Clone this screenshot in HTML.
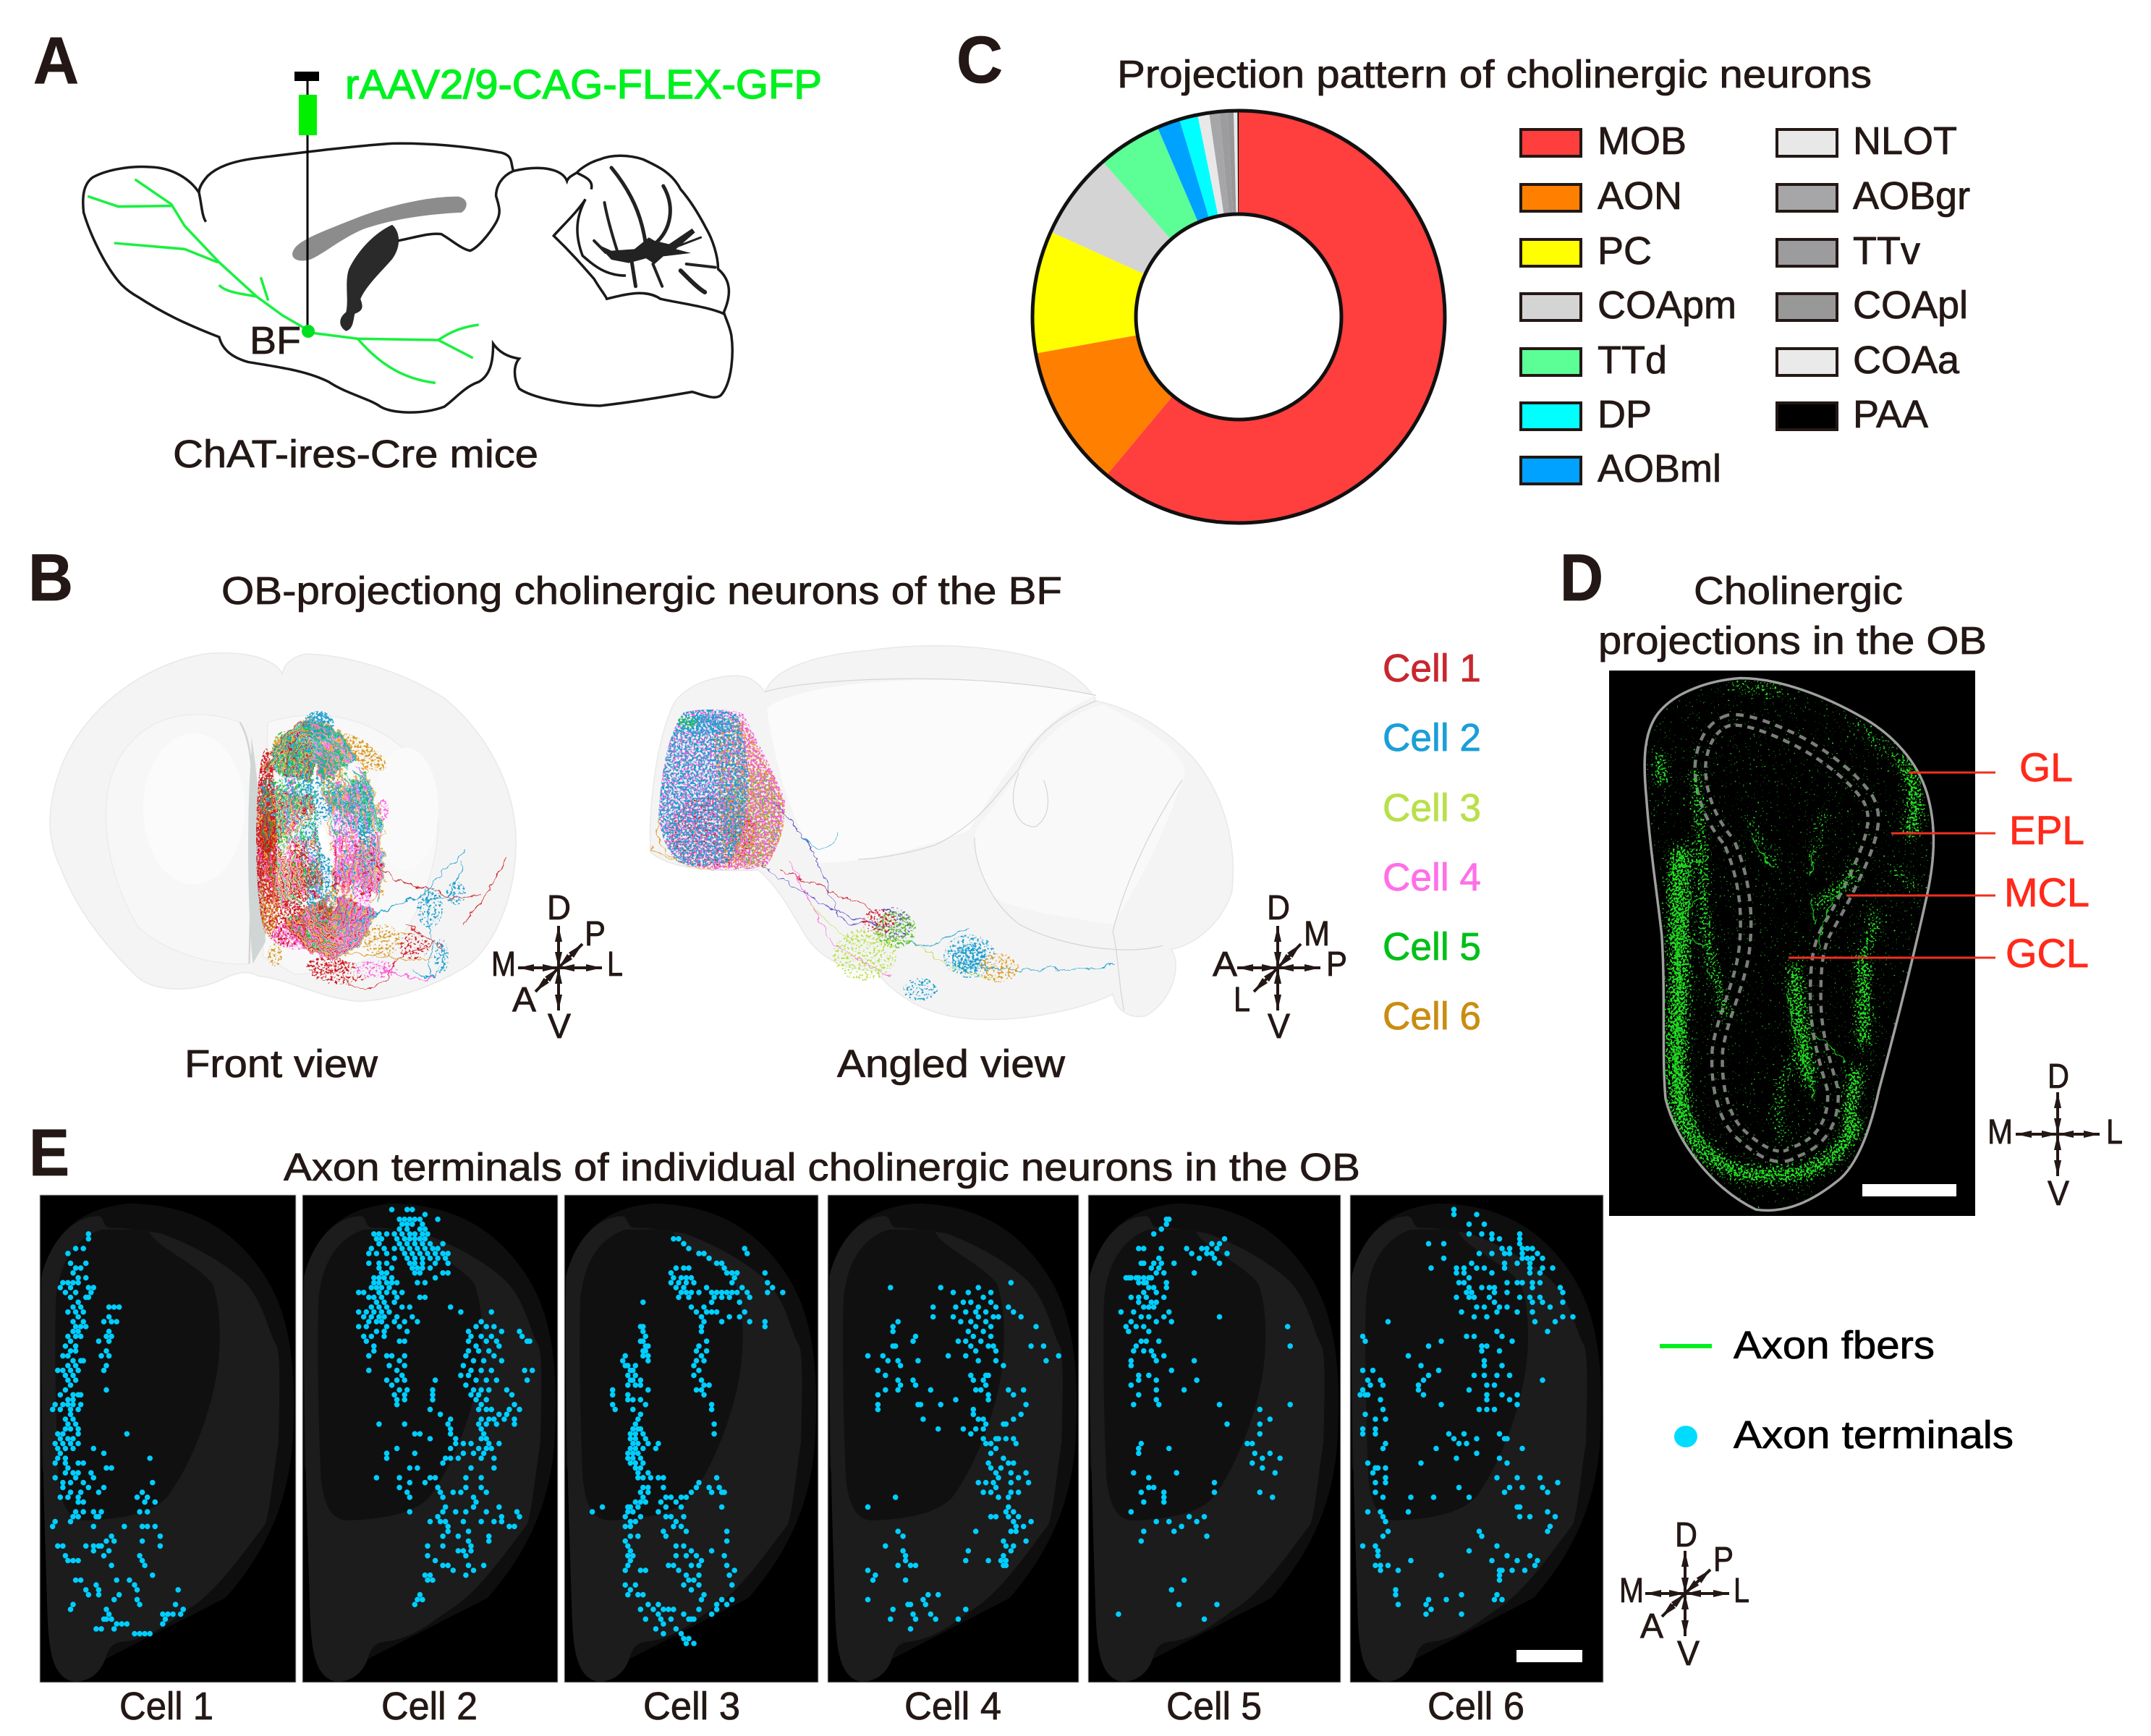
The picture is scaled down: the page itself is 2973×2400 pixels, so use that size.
<!DOCTYPE html>
<html lang="en">
<head>
<meta charset="utf-8">
<title>Projection of basal forebrain cholinergic neurons to the olfactory bulb</title>
<style>
html,body{margin:0;padding:0;background:#fff}
svg{display:block}
text{font-family:"Liberation Sans",Arial,sans-serif;fill:#231815;stroke:#231815;stroke-width:.8;font-size:54px}
.ltr{font-size:92px;font-weight:bold}
.cmp{font-size:48px}
.red{fill:#ff2a1a;stroke:#ff2a1a;font-size:56px}
.ns *{vector-effect:non-scaling-stroke}
.arr{stroke:#231815;stroke-width:4;marker-start:url(#ah);marker-end:url(#ah)}
.sw{stroke:#231815;stroke-width:4}
</style>
</head>
<body>
<svg id="figure" xmlns="http://www.w3.org/2000/svg" width="2973" height="2400" viewBox="0 0 2973 2400">
<defs>
<marker id="ah" markerUnits="userSpaceOnUse" markerWidth="24" markerHeight="14" refX="22" refY="7" orient="auto-start-reverse"><path d="M0,2 L22,7 L0,12 Z" fill="#231815"/></marker>
<filter id="wiggle" x="-10%" y="-10%" width="120%" height="120%"><feTurbulence type="fractalNoise" baseFrequency=".07" numOctaves="3" seed="7" result="n"/><feDisplacementMap in="SourceGraphic" in2="n" scale="14" xChannelSelector="R" yChannelSelector="G"/></filter>
<filter id="wiggleRing" filterUnits="userSpaceOnUse" x="300" y="950" width="300" height="420"><feTurbulence type="fractalNoise" baseFrequency=".09" numOctaves="4" seed="19" result="n"/><feDisplacementMap in="SourceGraphic" in2="n" scale="20" xChannelSelector="R" yChannelSelector="G"/></filter>
<filter id="spk1" x="-5%" y="-5%" width="110%" height="110%" color-interpolation-filters="sRGB"><feTurbulence type="fractalNoise" baseFrequency=".32" numOctaves="2" seed="3" result="n"/><feColorMatrix in="n" type="matrix" values="0 0 0 0 0 0 0 0 0 0 0 0 0 0 0 0 0 0 9 -4.3" result="t"/><feComposite in="SourceGraphic" in2="t" operator="in"/></filter>
<filter id="spk2" x="-5%" y="-5%" width="110%" height="110%" color-interpolation-filters="sRGB"><feTurbulence type="fractalNoise" baseFrequency=".32" numOctaves="2" seed="11" result="n"/><feColorMatrix in="n" type="matrix" values="0 0 0 0 0 0 0 0 0 0 0 0 0 0 0 0 0 0 9 -4.4" result="t"/><feComposite in="SourceGraphic" in2="t" operator="in"/></filter>
<filter id="spk3" x="-5%" y="-5%" width="110%" height="110%" color-interpolation-filters="sRGB"><feTurbulence type="fractalNoise" baseFrequency=".32" numOctaves="2" seed="23" result="n"/><feColorMatrix in="n" type="matrix" values="0 0 0 0 0 0 0 0 0 0 0 0 0 0 0 0 0 0 9 -4.4" result="t"/><feComposite in="SourceGraphic" in2="t" operator="in"/></filter>
<filter id="spk4" x="-5%" y="-5%" width="110%" height="110%" color-interpolation-filters="sRGB"><feTurbulence type="fractalNoise" baseFrequency=".32" numOctaves="2" seed="37" result="n"/><feColorMatrix in="n" type="matrix" values="0 0 0 0 0 0 0 0 0 0 0 0 0 0 0 0 0 0 9 -4.6" result="t"/><feComposite in="SourceGraphic" in2="t" operator="in"/></filter>
<filter id="spk5" x="-5%" y="-5%" width="110%" height="110%" color-interpolation-filters="sRGB"><feTurbulence type="fractalNoise" baseFrequency=".32" numOctaves="2" seed="41" result="n"/><feColorMatrix in="n" type="matrix" values="0 0 0 0 0 0 0 0 0 0 0 0 0 0 0 0 0 0 9 -4.6" result="t"/><feComposite in="SourceGraphic" in2="t" operator="in"/></filter>
<filter id="spkS" x="-5%" y="-5%" width="110%" height="110%" color-interpolation-filters="sRGB"><feTurbulence type="fractalNoise" baseFrequency=".3" numOctaves="2" seed="13" result="n"/><feColorMatrix in="n" type="matrix" values="0 0 0 0 0 0 0 0 0 0 0 0 0 0 0 0 0 0 9 -4.9" result="t"/><feComposite in="SourceGraphic" in2="t" operator="in"/></filter>
<filter id="densD" filterUnits="userSpaceOnUse" x="2224" y="927" width="506" height="754" color-interpolation-filters="sRGB">
<feTurbulence type="fractalNoise" baseFrequency=".34" numOctaves="2" seed="5" result="n"/>
<feColorMatrix in="n" type="matrix" values="0 0 0 0 0 0 0 0 0 0 0 0 0 0 0 0 0 0 1 0" result="na"/>
<feGaussianBlur in="SourceAlpha" stdDeviation="7" result="b"/>
<feComposite in="na" in2="b" operator="arithmetic" k1="0" k2="1" k3=".3" k4="0" result="s"/>
<feColorMatrix in="s" type="matrix" values="0 0 0 0 0 0 0 0 0 0 0 0 0 0 0 0 0 0 14 -10.1" result="t"/>
<feFlood flood-color="#22dd22"/><feComposite in2="t" operator="in"/>
</filter>
<clipPath id="obClip"><path transform="translate(2140,760) scale(.5314,.6122)" d="M500,290 C420,295 330,320 285,370 C250,410 245,470 255,560 C265,680 285,790 295,870 C305,1000 295,1150 305,1240 C330,1330 420,1440 540,1490 C620,1500 690,1470 760,1420 C810,1380 840,1300 860,1220 C900,1090 950,920 985,780 C1010,680 1005,610 985,550 C960,480 900,420 820,380 C720,330 600,290 500,290Z"/></clipPath>
<g id="ob-shape">
<path d="M3,210 C30,70 100,30 170,22 C280,25 360,80 420,200 C470,300 483,430 478,600 C475,760 440,900 350,1040 L120,1200 L3,700 Z" fill="#0e0e0e"/>
<path d="M3,210 C20,120 60,60 105,55 C125,50 115,85 135,85 C160,85 190,90 230,100 C290,130 340,170 375,210 C420,260 430,350 445,385 C455,400 452,520 450,640 C440,720 435,810 425,850 C380,930 340,1010 290,1060 C250,1095 220,1135 170,1150 C150,1155 135,1150 125,1190 C115,1240 85,1260 60,1255 C25,1240 18,1180 15,1100 C10,900 0,500 3,210 Z" fill="#1c1c1c"/>
<path d="M30,278 C35,170 70,110 115,90 C135,88 150,90 205,88 C210,130 290,170 325,228 C345,300 340,400 335,450 C325,550 290,680 250,760 C230,810 180,835 85,840 C55,838 40,800 35,730 C30,580 28,420 30,278 Z" fill="#101010"/>
</g>
</defs>

<!-- PANEL A -->
<g id="panel-a">
<text class="ltr" x="46" y="115" textLength="63" lengthAdjust="spacingAndGlyphs">A</text>
<text x="477" y="136" textLength="659" lengthAdjust="spacingAndGlyphs" style="fill:#00f020;stroke:#00f020;stroke-width:1.4;font-size:57px">rAAV2/9-CAG-FLEX-GFP</text>
<g class="ns" transform="scale(.7972,.4591)">
<path d="M510,750 C520,720 570,690 620,655 C680,615 750,590 795,592 C815,600 810,630 800,640 C740,645 680,660 630,690 C590,720 565,760 540,780 C515,795 500,775 510,750Z" fill="#8c8c8c"/>
<path d="M680,677 C695,700 695,745 680,780 C660,820 635,860 625,900 C630,925 630,935 615,945 C612,970 612,990 600,997 C588,985 585,960 600,940 C605,900 597,850 605,810 C620,755 650,700 680,677Z" fill="#2a2a2a"/>
<g fill="none" stroke="#1a1a1a" stroke-width="3.5">
<path d="M345,580 C330,540 300,505 260,503 C220,498 180,515 160,535 C145,555 142,590 145,640 C155,700 175,770 190,810 C205,850 215,870 240,895 C280,940 320,975 380,1015 C385,1050 400,1075 430,1090 C480,1105 530,1115 570,1150 C600,1185 640,1200 660,1225 C680,1245 730,1250 770,1225 C790,1200 805,1165 830,1150 C850,1130 855,1090 855,1035 C865,1060 880,1075 900,1080 C890,1100 890,1140 900,1170 C920,1195 980,1220 1040,1222 C1100,1210 1150,1195 1200,1180 C1220,1190 1240,1205 1250,1190 C1270,1150 1272,1060 1268,1010 C1265,980 1258,960 1255,940 C1270,880 1265,840 1245,810 C1245,770 1235,720 1225,690 C1210,640 1195,600 1180,570 C1165,520 1140,500 1115,480 C1090,465 1060,465 1040,480 C1020,490 1005,510 1000,520 C990,530 985,535 983,545 C975,510 940,495 890,515 C885,490 890,470 870,460 C810,440 740,430 680,432 C610,440 520,460 450,475 C400,485 375,505 360,530 C350,550 345,565 345,580"/>
<path d="M345,580 C350,620 350,650 357,668"/>
<path d="M890,515 C870,530 860,560 860,590 C865,620 870,640 860,670 C850,700 830,745 815,755 C800,750 785,725 765,705 C745,700 720,715 690,725"/>
<path d="M1015,600 C1000,640 975,680 960,710 C990,760 1010,800 1030,840 C1040,870 1050,890 1052,900 C1085,885 1120,870 1145,900 C1185,915 1230,925 1255,945"/>
<path d="M1015,600 C1000,650 995,700 1010,770 C1030,800 1050,830 1085,830"/>
<path d="M1000,520 C1010,530 1030,540 1025,570"/>
</g>
<g>
<path d="M1035,735 L1060,755 L1100,750 L1125,715 L1135,725 L1160,735 L1200,688 L1205,700 L1172,750 L1198,762 L1150,772 L1135,795 L1120,778 L1090,792 L1060,782Z" fill="#222"/>
<g fill="none" stroke="#222" stroke-linecap="round">
<path d="M1120,740 C1115,680 1105,600 1060,505" stroke-width="5"/>
<path d="M1135,735 C1165,690 1170,620 1150,560" stroke-width="5"/>
<path d="M1070,755 C1060,700 1052,650 1048,610" stroke-width="4"/>
<path d="M1030,725 L1050,760" stroke-width="4"/>
<path d="M1190,795 L1240,805" stroke-width="4"/>
<path d="M1180,815 C1200,850 1212,870 1222,880" stroke-width="6"/>
<path d="M1095,785 L1102,862" stroke-width="5"/>
<path d="M1132,795 L1148,862" stroke-width="4"/>
<path d="M1170,745 L1215,715" stroke-width="3"/>
</g></g>
<g fill="none" stroke="#19f040" stroke-width="3.5">
<path d="M152,591 L205,622 L297,620"/>
<path d="M234,540 L297,615 L320,680 L380,790 L445,893 L490,950 L530,990"/>
<path d="M198,732 L320,750 L378,790"/>
<path d="M380,858 C390,880 420,885 445,893"/>
<path d="M452,835 L465,905"/>
<path d="M530,1000 L620,1020 L760,1024 C780,1000 800,985 830,978"/>
<path d="M760,1024 L820,1078"/>
<path d="M620,1020 C650,1080 690,1140 755,1153"/>
</g>
</g>
<rect x="407" y="99" width="34" height="13" fill="#000"/>
<line x1="425" y1="112" x2="425" y2="455" stroke="#000" stroke-width="3"/>
<rect x="413" y="131" width="25" height="56" fill="#00f000"/>
<ellipse cx="426" cy="458" rx="9" ry="9" fill="#00e020"/>
<text x="345" y="489" textLength="71" lengthAdjust="spacingAndGlyphs">BF</text>
<text x="239" y="646" textLength="505" lengthAdjust="spacingAndGlyphs">ChAT-ires-Cre mice</text>
</g>

<!-- PANEL C -->
<g id="panel-c">
<text class="ltr" x="1322" y="114" textLength="64" lengthAdjust="spacingAndGlyphs">C</text>
<text x="1544" y="121" textLength="1043" lengthAdjust="spacingAndGlyphs">Projection pattern of cholinergic neurons</text>
<g id="donut"></g>
<g id="donut-legend"></g>
</g>

<!-- PANEL B -->
<g id="panel-b">
<text class="ltr" x="39" y="830" textLength="62" lengthAdjust="spacingAndGlyphs">B</text>
<text x="306" y="835" textLength="1162" lengthAdjust="spacingAndGlyphs">OB-projectiong cholinergic neurons of the BF</text>

<g class="ns" transform="translate(0,760) scale(.6378,.4975)">
<path d="M612,345 C590,290 500,280 440,290 C320,320 200,420 140,580 C100,700 100,800 130,880 C160,980 210,1080 300,1190 C340,1230 420,1230 480,1195 C520,1170 540,1170 560,1185 C620,1190 700,1250 780,1255 C860,1250 950,1210 1020,1150 C1080,1080 1120,950 1118,800 C1115,650 1050,500 960,410 C860,330 740,290 660,290 C630,300 615,320 612,345Z" fill="#f4f4f4" stroke="#e8e8e8" stroke-width="1.5"/>
<path d="M520,480 C420,430 300,460 250,600 C210,720 230,900 300,1050 C360,1120 470,1160 540,1150 L555,700 C550,580 540,510 520,480Z" fill="#f7f7f7" stroke="#ececec" stroke-width="1.5"/>
<path d="M580,480 C700,430 840,470 920,620 C970,720 950,880 900,1010 C860,1130 760,1170 640,1180 L570,1130Z" fill="#f8f8f8" stroke="#ececec" stroke-width="1.5"/>
<ellipse cx="420" cy="720" rx="110" ry="210" fill="#fbfbfb"/>
<ellipse cx="880" cy="720" rx="70" ry="170" fill="#fafafa"/>
<path d="M520,480 C540,520 548,600 548,700 L540,1150" fill="none" stroke="#cfcfcf" stroke-width="2"/>
<path d="M545,520 C555,600 575,800 575,1090 L548,1150 C535,1000 535,700 545,560Z" fill="#d0d6d6"/>
</g>
<g>
<g filter="url(#spk1)"><ellipse cx="368" cy="1160" rx="14" ry="125" fill="#d01c24"/><ellipse cx="397" cy="1277" rx="30" ry="32" fill="#d01c24"/><ellipse cx="440" cy="1003" rx="22" ry="20" fill="#1e9fd0"/><ellipse cx="497" cy="1117" rx="20" ry="38" fill="#1e9fd0"/></g>
<g filter="url(#spk2)"><ellipse cx="368" cy="1160" rx="14" ry="120" fill="#d01c24"/><ellipse cx="372" cy="1245" rx="13" ry="50" fill="#d8851a"/><ellipse cx="500" cy="1040" rx="40" ry="15" transform="rotate(35 500 1040)" fill="#d89a20"/><ellipse cx="413" cy="1067" rx="20" ry="52" fill="#1e9fd0"/></g>
<g filter="url(#spk3)"><ellipse cx="440" cy="1003" rx="20" ry="18" fill="#1e9fd0"/><ellipse cx="393" cy="1043" rx="18" ry="32" fill="#20c040"/><ellipse cx="507" cy="1173" rx="13" ry="42" fill="#1e9fd0"/><ellipse cx="477" cy="1165" rx="17" ry="72" fill="#ff60e0"/><ellipse cx="370" cy="1170" rx="13" ry="80" fill="#d01c24"/><ellipse cx="444" cy="1230" rx="22" ry="50" fill="#1e9fd0"/></g>
<g filter="url(#spk4)"><ellipse cx="500" cy="1237" rx="13" ry="42" fill="#ff60e0"/><ellipse cx="413" cy="1293" rx="38" ry="20" fill="#ff60e0"/><ellipse cx="530" cy="1120" rx="7" ry="16" fill="#ff60e0"/><ellipse cx="430" cy="1165" rx="15" ry="80" fill="#1e9fd0"/><ellipse cx="388" cy="1130" rx="7" ry="55" fill="#20c040"/><ellipse cx="450" cy="1085" rx="14" ry="50" fill="#1e9fd0"/></g>
<g filter="url(#spk5)"><ellipse cx="403" cy="1130" rx="10" ry="60" fill="#ff60e0"/><ellipse cx="460" cy="1070" rx="18" ry="45" fill="#d89a20"/><ellipse cx="470" cy="1250" rx="22" ry="30" fill="#e8a030"/><ellipse cx="453" cy="1335" rx="30" ry="12" fill="#d01c24"/><ellipse cx="380" cy="1320" rx="10" ry="16" fill="#d8a030"/><ellipse cx="415" cy="1215" rx="14" ry="50" fill="#d01c24"/></g>
<ellipse cx="370" cy="1152" rx="11" ry="28" fill="#cc1a14"/>
</g>
<g id="front-rings" filter="url(#wiggleRing)"></g>
<ellipse cx="447" cy="1160" rx="6" ry="20" transform="rotate(-14 447 1160)" fill="#fff"/>
<g>
<g filter="url(#wiggle)" fill="none" stroke-width="1.1">
<path d="M480,1290 C530,1240 570,1260 600,1220 S630,1200 641,1173" stroke="#1e9fd0"/>
<path d="M590,1350 C605,1320 590,1270 590,1230 M590,1240 C610,1250 630,1240 640,1190" stroke="#1e9fd0"/>
<path d="M700,1185 C680,1230 660,1250 640,1280 M520,1190 C545,1230 570,1220 600,1232 S640,1240 660,1240" stroke="#d01c24"/>
<path d="M470,1350 C500,1375 530,1370 540,1340 S590,1320 600,1300 M560,1280 C590,1290 620,1330 610,1300" stroke="#d01c24"/>
<path d="M480,1320 C520,1310 560,1340 600,1320 M500,1310 C530,1290 550,1290 570,1290" stroke="#d89a20"/>
<path d="M500,1330 C540,1340 580,1365 600,1350" stroke="#ff60e0"/>
<path d="M570,1340 C590,1360 610,1360 615,1310" stroke="#1e9fd0"/>
</g>
<g filter="url(#spkS)"><ellipse cx="594" cy="1255" rx="18" ry="28" fill="#1e9fd0"/><ellipse cx="630" cy="1235" rx="14" ry="16" fill="#1e9fd0"/><ellipse cx="572" cy="1308" rx="22" ry="18" fill="#d01c24"/><ellipse cx="528" cy="1300" rx="26" ry="22" fill="#d89a20"/><ellipse cx="610" cy="1322" rx="10" ry="24" fill="#1e9fd0"/><ellipse cx="470" cy="1345" rx="40" ry="16" fill="#d01c24"/><ellipse cx="520" cy="1340" rx="30" ry="12" fill="#ff60e0"/></g>
</g>

<g class="ns" transform="translate(880,760) scale(.7653,.4975)">
<path d="M25,840 C20,700 40,500 70,420 C100,360 170,340 200,355 C215,365 225,380 232,395 C250,320 340,290 420,280 C530,255 650,265 740,310 C790,340 820,390 830,420 C890,440 950,490 1000,570 C1060,670 1085,820 1075,950 C1060,1030 1010,1100 965,1110 C985,1150 970,1250 920,1295 C890,1305 865,1280 860,1235 C800,1280 700,1310 620,1305 C520,1300 470,1240 430,1170 C380,1170 330,1140 300,1060 C270,980 250,930 220,890 C150,895 60,890 25,840Z" fill="#f4f4f4" stroke="#e8e8e8" stroke-width="1.5"/>
<path d="M235,440 C300,360 600,330 830,405 C720,470 650,660 600,780 C500,840 400,870 330,870 C280,760 250,600 235,440Z" fill="#fbfbfb"/>
<path d="M840,430 C900,470 990,560 990,620 C960,760 920,900 860,1040 C760,1020 680,1000 640,960 C610,880 600,800 620,760 C680,660 730,480 840,430Z" fill="#f9f9f9"/>
<g fill="none" stroke="#d4d4d4" stroke-width="1.2">
<path d="M830,420 C780,450 720,500 690,610 C650,680 620,760 540,820 C480,850 420,860 400,860"/>
<path d="M610,800 C610,880 640,980 690,1040 C760,1100 880,1130 950,1100"/>
<path d="M690,620 C670,690 680,770 720,770 C750,740 745,680 735,640"/>
<path d="M985,640 C950,720 890,880 860,1060 C870,1130 870,1200 880,1280"/>
<path d="M232,395 C300,360 600,330 830,405"/>
</g>
</g>
<g>
<ellipse cx="1040" cy="1130" rx="40" ry="65" fill="#30c050" filter="url(#spk5)"/>
<ellipse cx="985" cy="1150" rx="60" ry="50" fill="#d02030" filter="url(#spk4)"/>
<path d="M985,1000 C1020,985 1028,990 1045,1030 C1075,1080 1085,1105 1085,1120 C1085,1150 1070,1185 1058,1198 L1000,1200 Z" fill="#e09a20" filter="url(#spk2)"/>
<path d="M945,985 C970,978 1020,980 1028,988 C1050,1030 1075,1080 1085,1105 C1085,1150 1070,1185 1058,1198 C1020,1205 960,1205 935,1190 C915,1170 908,1130 911,1115 C915,1060 925,1010 945,985Z" fill="#f060d8" filter="url(#spk3)"/>
<path d="M945,985 C970,978 1010,980 1020,990 C1040,1050 1040,1130 1010,1190 C980,1200 950,1200 935,1190 C915,1170 908,1130 911,1115 C915,1060 925,1010 945,985Z" fill="#1e9fd0" filter="url(#spk1)"/>
<ellipse cx="975" cy="1002" rx="36" ry="14" fill="#1e9fd0" filter="url(#spk2)"/>
<ellipse cx="950" cy="998" rx="14" ry="8" fill="#20c040" filter="url(#spk3)"/>
<g filter="url(#wiggle)" fill="none" stroke-width="1">
<path d="M1050,1195 C1090,1220 1130,1250 1170,1265 S1215,1275 1235,1282" stroke="#5a48c8"/>
<path d="M1070,1110 C1110,1150 1140,1200 1150,1245 S1190,1270 1220,1280" stroke="#5a48c8"/>
<path d="M1080,1200 C1130,1230 1180,1240 1225,1270" stroke="#d02030"/>
<path d="M1090,1190 C1120,1250 1140,1290 1160,1310 S1200,1330 1230,1350" stroke="#ff60e0"/>
<path d="M1120,1250 C1150,1290 1190,1310 1230,1300 S1300,1350 1380,1350" stroke="#b8e04a"/>
<path d="M1110,1160 C1130,1180 1145,1180 1160,1150" stroke="#1e9fd0"/>
<path d="M1330,1330 C1370,1345 1430,1340 1470,1340 S1530,1335 1540,1332" stroke="#1e9fd0"/>
<path d="M1250,1300 C1290,1320 1310,1290 1340,1285" stroke="#1e9fd0"/>
<path d="M900,1170 C920,1190 950,1195 985,1205 M910,1130 C905,1160 915,1175 935,1190" stroke="#e09a20"/>
</g>
<ellipse cx="1232" cy="1278" rx="28" ry="24" fill="#5a48c8" filter="url(#spkS)"/>
<ellipse cx="1238" cy="1285" rx="28" ry="26" fill="#60c030" filter="url(#spk4)"/>
<ellipse cx="1215" cy="1275" rx="24" ry="18" fill="#d02030" filter="url(#spkS)"/>
<ellipse cx="1195" cy="1320" rx="44" ry="36" fill="#b8e04a" filter="url(#spkS)"/>
<ellipse cx="1340" cy="1322" rx="36" ry="30" fill="#1e9fd0" filter="url(#spkS)"/>
<ellipse cx="1340" cy="1325" rx="24" ry="20" fill="#1e9fd0" filter="url(#spk3)"/>
<ellipse cx="1380" cy="1338" rx="28" ry="20" fill="#e09a20" filter="url(#spkS)"/>
<ellipse cx="1272" cy="1368" rx="24" ry="16" fill="#1e9fd0" filter="url(#spkS)"/>
</g>

<text x="255" y="1489" textLength="267" lengthAdjust="spacingAndGlyphs">Front view</text>
<text x="1157" y="1489" textLength="315" lengthAdjust="spacingAndGlyphs">Angled view</text>

<g>
<line class="arr" x1="772" y1="1338" x2="772" y2="1280"/><line class="arr" x1="772" y1="1338" x2="772" y2="1397"/>
<line class="arr" x1="772" y1="1338" x2="716" y2="1338"/><line class="arr" x1="772" y1="1338" x2="832" y2="1338"/>
<line class="arr" x1="772" y1="1338" x2="805" y2="1305"/><line class="arr" x1="772" y1="1338" x2="740" y2="1371"/>
<text class="cmp" x="756" y="1271" textLength="33" lengthAdjust="spacingAndGlyphs">D</text><text class="cmp" x="808" y="1307" textLength="29" lengthAdjust="spacingAndGlyphs">P</text>
<text class="cmp" x="679" y="1349" textLength="34" lengthAdjust="spacingAndGlyphs">M</text><text class="cmp" x="839" y="1349" textLength="22" lengthAdjust="spacingAndGlyphs">L</text>
<text class="cmp" x="708" y="1398" textLength="33" lengthAdjust="spacingAndGlyphs">A</text><text class="cmp" x="757" y="1435" textLength="32" lengthAdjust="spacingAndGlyphs">V</text>
</g>
<g>
<line class="arr" x1="1766" y1="1338" x2="1766" y2="1280"/><line class="arr" x1="1766" y1="1338" x2="1766" y2="1397"/>
<line class="arr" x1="1766" y1="1338" x2="1710" y2="1338"/><line class="arr" x1="1766" y1="1338" x2="1825" y2="1338"/>
<line class="arr" x1="1766" y1="1338" x2="1798" y2="1305"/><line class="arr" x1="1766" y1="1338" x2="1733" y2="1371"/>
<text class="cmp" x="1751" y="1271" textLength="32" lengthAdjust="spacingAndGlyphs">D</text><text class="cmp" x="1802" y="1307" textLength="36" lengthAdjust="spacingAndGlyphs">M</text>
<text class="cmp" x="1676" y="1349" textLength="34" lengthAdjust="spacingAndGlyphs">A</text><text class="cmp" x="1833" y="1349" textLength="29" lengthAdjust="spacingAndGlyphs">P</text>
<text class="cmp" x="1705" y="1398" textLength="23" lengthAdjust="spacingAndGlyphs">L</text><text class="cmp" x="1752" y="1435" textLength="31" lengthAdjust="spacingAndGlyphs">V</text>
</g>

<g>
<text x="1911" y="942" textLength="136" lengthAdjust="spacingAndGlyphs" style="fill:#c8272e;stroke:#c8272e">Cell 1</text>
<text x="1911" y="1038" textLength="136" lengthAdjust="spacingAndGlyphs" style="fill:#1a9fd8;stroke:#1a9fd8">Cell 2</text>
<text x="1911" y="1135" textLength="136" lengthAdjust="spacingAndGlyphs" style="fill:#b8e04a;stroke:#b8e04a">Cell 3</text>
<text x="1911" y="1231" textLength="136" lengthAdjust="spacingAndGlyphs" style="fill:#ff6fe8;stroke:#ff6fe8">Cell 4</text>
<text x="1911" y="1327" textLength="136" lengthAdjust="spacingAndGlyphs" style="fill:#00c018;stroke:#00c018">Cell 5</text>
<text x="1911" y="1423" textLength="136" lengthAdjust="spacingAndGlyphs" style="fill:#c98d10;stroke:#c98d10">Cell 6</text>
</g>
</g>

<!-- PANEL D -->
<g id="panel-d">
<text class="ltr" x="2156" y="830" textLength="60" lengthAdjust="spacingAndGlyphs">D</text>
<text x="2341" y="835" textLength="289" lengthAdjust="spacingAndGlyphs">Cholinergic</text>
<text x="2209" y="904" textLength="537" lengthAdjust="spacingAndGlyphs">projections in the OB</text>
<rect x="2224" y="927" width="506" height="754" fill="#000"/>
<g class="ns" transform="translate(2140,760) scale(.5314,.6122)">
<path d="M500,290 C420,295 330,320 285,370 C250,410 245,470 255,560 C265,680 285,790 295,870 C305,1000 295,1150 305,1240 C330,1330 420,1440 540,1490 C620,1500 690,1470 760,1420 C810,1380 840,1300 860,1220 C900,1090 950,920 985,780 C1010,680 1005,610 985,550 C960,480 900,420 820,380 C720,330 600,290 500,290Z" fill="none" stroke="#a0a0a0" stroke-width="3.5"/>
<path d="M470,385 C430,395 400,430 395,490 C395,560 430,620 470,660 C510,740 520,820 510,900 C500,980 450,1060 440,1130 C435,1200 450,1280 500,1320 C550,1360 600,1385 640,1360 C710,1340 745,1290 740,1220 C725,1170 695,1100 695,1010 C695,940 700,890 730,850 C770,790 810,720 830,670 C850,620 850,590 830,560 C790,510 700,450 620,420 C570,400 510,380 470,385Z" fill="none" stroke="#7c7c7c" stroke-width="19" stroke-dasharray="10 8"/>
<path d="M470,385 C430,395 400,430 395,490 C395,560 430,620 470,660 C510,740 520,820 510,900 C500,980 450,1060 440,1130 C435,1200 450,1280 500,1320 C550,1360 600,1385 640,1360 C710,1340 745,1290 740,1220 C725,1170 695,1100 695,1010 C695,940 700,890 730,850 C770,790 810,720 830,670 C850,620 850,590 830,560 C790,510 700,450 620,420 C570,400 510,380 470,385Z" fill="none" stroke="#000" stroke-width="10"/>
</g>
<g clip-path="url(#obClip)"><g filter="url(#densD)"><g class="ns" transform="translate(2140,760) scale(.5314,.6122)" fill="none" stroke="#22e022" stroke-linecap="round">
<path d="M345,690 C330,800 345,900 340,1000 C330,1100 330,1200 350,1290" stroke-width="30"/>
<path d="M335,1000 L335,1220" stroke-width="20"/>
<path d="M345,800 L350,880" stroke-width="22"/>
<path d="M350,1290 C400,1380 480,1420 600,1410 C680,1420 760,1370 800,1300" stroke-width="22"/>
<path d="M480,305 L600,320" stroke-width="9"/><path d="M290,470 L295,520" stroke-width="16"/>
<path d="M800,390 L930,490" stroke-width="8"/><path d="M930,490 C960,540 960,600 940,640" stroke-width="20"/>
<path d="M640,950 C650,1050 670,1150 680,1200" stroke-width="20"/>
<path d="M820,940 L820,1110" stroke-width="20"/><path d="M800,1180 L780,1300" stroke-width="20"/>
<path d="M385,500 C395,620 400,780 420,920 L460,1050" stroke-width="12"/>
<path d="M700,800 C740,780 770,760 800,720" stroke-width="12"/>
<path d="M850,820 C840,880 830,900 810,930" stroke-width="12"/>
<path d="M520,610 L590,720 M720,590 L680,720" stroke-width="7"/>
<path d="M900,720 L960,760" stroke-width="8"/>
<path d="M640,1140 C600,1220 580,1290 620,1340" stroke-width="8"/>
</g></g></g>
<g filter="url(#wiggle)"><g class="ns" transform="translate(2140,760) scale(.5314,.6122)" fill="none" stroke="#1fd01f" stroke-width="1.6">
<path d="M340,690 C370,720 380,780 345,850 C320,900 350,960 345,1040 C330,1120 320,1180 345,1240 C380,1300 420,1370 480,1400"/>
<path d="M310,730 C350,700 400,720 420,690 M320,850 L410,770 M310,880 C360,860 390,900 420,890"/>
<path d="M330,1060 L360,1120 M325,1180 C345,1160 360,1190 345,1220"/>
<path d="M620,1000 C640,1100 670,1150 690,1240 M700,1100 C740,1130 760,1140 770,1160"/>
<path d="M760,760 C720,800 710,860 700,900 M690,790 L695,850"/>
<path d="M530,650 L580,720 M690,680 L680,740"/>
</g></g>
<g stroke="#f03020" stroke-width="3">
<line x1="2638" y1="1068" x2="2758" y2="1068"/><line x1="2614" y1="1152" x2="2758" y2="1152"/>
<line x1="2552" y1="1238" x2="2758" y2="1238"/><line x1="2472" y1="1324" x2="2758" y2="1324"/>
</g>
<text class="red" x="2791" y="1080" textLength="74" lengthAdjust="spacingAndGlyphs">GL</text>
<text class="red" x="2777" y="1167" textLength="104" lengthAdjust="spacingAndGlyphs">EPL</text>
<text class="red" x="2770" y="1253" textLength="118" lengthAdjust="spacingAndGlyphs">MCL</text>
<text class="red" x="2772" y="1337" textLength="115" lengthAdjust="spacingAndGlyphs">GCL</text>
<rect x="2574" y="1637" width="130" height="17" fill="#fff"/>
<g>
<line class="arr" x1="2844" y1="1568" x2="2844" y2="1510"/><line class="arr" x1="2844" y1="1568" x2="2844" y2="1626"/>
<line class="arr" x1="2844" y1="1568" x2="2786" y2="1568"/><line class="arr" x1="2844" y1="1568" x2="2902" y2="1568"/>
<text class="cmp" x="2830" y="1504" textLength="30" lengthAdjust="spacingAndGlyphs">D</text><text class="cmp" x="2747" y="1581" textLength="35" lengthAdjust="spacingAndGlyphs">M</text>
<text class="cmp" x="2911" y="1581" textLength="23" lengthAdjust="spacingAndGlyphs">L</text><text class="cmp" x="2830" y="1666" textLength="30" lengthAdjust="spacingAndGlyphs">V</text>
</g>
</g>

<!-- PANEL E -->
<g id="panel-e">
<text class="ltr" x="40" y="1625" textLength="56" lengthAdjust="spacingAndGlyphs">E</text>
<text x="392" y="1632" textLength="1488" lengthAdjust="spacingAndGlyphs">Axon terminals of individual cholinergic neurons in the OB</text>
<g><rect x="55" y="1652" width="354" height="674" fill="#000" stroke="#c4c4c4"/><use href="#ob-shape" transform="translate(55,1652) scale(.7329,.5358)"/></g>
<g><rect x="418" y="1652" width="353" height="674" fill="#000" stroke="#c4c4c4"/><use href="#ob-shape" transform="translate(418,1652) scale(.7308,.5358)"/></g>
<g><rect x="780" y="1652" width="351" height="674" fill="#000" stroke="#c4c4c4"/><use href="#ob-shape" transform="translate(780,1652) scale(.7267,.5358)"/></g>
<g><rect x="1144" y="1652" width="347" height="674" fill="#000" stroke="#c4c4c4"/><use href="#ob-shape" transform="translate(1144,1652) scale(.7184,.5358)"/></g>
<g><rect x="1504" y="1652" width="349" height="674" fill="#000" stroke="#c4c4c4"/><use href="#ob-shape" transform="translate(1504,1652) scale(.7226,.5358)"/></g>
<g><rect x="1866" y="1652" width="350" height="674" fill="#000" stroke="#c4c4c4"/><use href="#ob-shape" transform="translate(1866,1652) scale(.7246,.5358)"/></g>
<g id="terminals"></g>
<rect x="2096" y="2281" width="91" height="17" fill="#fff"/>
<text x="165" y="2377" textLength="130" lengthAdjust="spacingAndGlyphs">Cell 1</text>
<text x="527" y="2377" textLength="133" lengthAdjust="spacingAndGlyphs">Cell 2</text>
<text x="889" y="2377" textLength="134" lengthAdjust="spacingAndGlyphs">Cell 3</text>
<text x="1250" y="2377" textLength="134" lengthAdjust="spacingAndGlyphs">Cell 4</text>
<text x="1612" y="2377" textLength="132" lengthAdjust="spacingAndGlyphs">Cell 5</text>
<text x="1973" y="2377" textLength="134" lengthAdjust="spacingAndGlyphs">Cell 6</text>

<g>
<rect x="2294" y="1858" width="72" height="6" fill="#00f020"/>
<text x="2396" y="1878" textLength="278" lengthAdjust="spacingAndGlyphs" style="fill:#000;stroke:#000">Axon fbers</text>
<ellipse cx="2330" cy="1986" rx="16" ry="15" fill="#00dcff"/>
<text x="2396" y="2002" textLength="387" lengthAdjust="spacingAndGlyphs" style="fill:#000;stroke:#000">Axon terminals</text>
</g>
<g>
<line class="arr" x1="2329" y1="2203" x2="2329" y2="2144"/><line class="arr" x1="2329" y1="2203" x2="2329" y2="2262"/>
<line class="arr" x1="2329" y1="2203" x2="2274" y2="2203"/><line class="arr" x1="2329" y1="2203" x2="2390" y2="2203"/>
<line class="arr" x1="2329" y1="2203" x2="2364" y2="2170"/><line class="arr" x1="2329" y1="2203" x2="2297" y2="2235"/>
<text class="cmp" x="2315" y="2138" textLength="31" lengthAdjust="spacingAndGlyphs">D</text><text class="cmp" x="2368" y="2172" textLength="28" lengthAdjust="spacingAndGlyphs">P</text>
<text class="cmp" x="2238" y="2215" textLength="34" lengthAdjust="spacingAndGlyphs">M</text><text class="cmp" x="2396" y="2215" textLength="22" lengthAdjust="spacingAndGlyphs">L</text>
<text class="cmp" x="2267" y="2264" textLength="32" lengthAdjust="spacingAndGlyphs">A</text><text class="cmp" x="2318" y="2302" textLength="31" lengthAdjust="spacingAndGlyphs">V</text>
</g>
</g>
</svg>

<script>
/* Panel C: share of projection (%) per target region, read from the donut */
const regionNames = ["MOB","AON","PC","COApm","TTd","AOBml","DP","NLOT","AOBgr","TTv","COApl","COAa","PAA"];
const regionShares = [61.06,11.1,9.6,6.8,5.0,1.8,1.45,0.9,0.8,0.6,0.5,0.3,0.09];
const regionColors = ["#ff3e3e","#ff8000","#ffff00","#d4d4d4","#5cff96","#00a2ff","#00ffff","#e8e8e8","#a6a6a8","#9c9c9e","#989899","#eaeaea","#000000"];
const legendOrder = ["MOB","AON","PC","COApm","TTd","DP","AOBml","NLOT","AOBgr","TTv","COApl","COAa","PAA"];

/* Panel E: terminals per cell, [mediolateral %, dorsoventral %] within each section */
const cell1Terminals = [[19,8],[19,9],[17,11],[11,12],[14,11],[12,14],[14,15],[16,15],[18,14],[13,16],[15,17],[18,17],[11,18],[13,18],[15,18],[9,18],[8,19],[12,19],[14,20],[10,20],[12,21],[19,19],[21,19],[20,20],[18,21],[19,21],[15,22],[13,23],[16,23],[11,24],[14,24],[17,24],[15,25],[13,26],[17,26],[14,27],[16,27],[18,27],[15,28],[13,28],[11,29],[14,29],[16,29],[12,30],[14,31],[10,31],[12,32],[14,32],[9,33],[11,33],[13,34],[16,34],[11,35],[14,35],[17,34],[9,36],[12,36],[15,36],[7,36],[10,37],[13,37],[27,23],[29,23],[31,23],[27,25],[25,26],[28,26],[30,26],[27,28],[26,29],[28,29],[23,30],[27,30],[26,32],[24,33],[27,33],[26,35],[25,36],[26,40],[11,38],[14,38],[12,39],[10,40],[13,41],[15,41],[8,41],[11,42],[13,42],[16,41],[6,43],[9,43],[11,43],[13,43],[16,43],[5,44],[8,44],[12,44],[15,44],[12,45],[10,46],[13,46],[11,47],[14,47],[12,48],[15,48],[10,48],[7,49],[9,49],[11,50],[13,50],[15,49],[8,50],[6,51],[9,51],[12,51],[15,51],[7,52],[10,52],[13,52],[8,53],[7,54],[6,55],[10,54],[21,52],[25,53],[34,49],[43,54],[10,55],[11,56],[15,55],[17,55],[10,57],[13,57],[15,57],[20,57],[26,56],[28,56],[6,58],[9,59],[12,59],[14,58],[17,59],[21,58],[9,60],[12,61],[16,61],[19,60],[8,62],[11,62],[15,62],[17,63],[23,61],[25,60],[44,59],[42,62],[40,61],[38,62],[41,63],[45,63],[39,65],[15,63],[14,65],[17,65],[21,65],[24,65],[23,66],[15,66],[13,66],[12,67],[6,67],[21,68],[22,66],[5,68],[42,65],[33,68],[40,68],[42,68],[45,68],[47,70],[28,70],[26,71],[40,71],[29,71],[24,72],[18,72],[21,72],[23,72],[27,73],[47,72],[7,72],[9,72],[10,74],[11,75],[13,75],[15,75],[21,73],[25,74],[39,74],[40,75],[41,76],[28,76],[30,79],[14,79],[16,79],[22,80],[23,81],[35,79],[37,80],[38,81],[44,78],[18,81],[19,82],[23,82],[31,82],[29,83],[38,83],[39,84],[13,84],[12,85],[27,86],[25,87],[26,85],[54,81],[53,84],[26,87],[28,87],[30,88],[32,88],[34,88],[49,87],[48,86],[50,86],[52,86],[55,86],[56,85],[24,89],[29,89],[48,88],[37,90],[39,90],[41,90],[43,90],[22,89]];
const cell2Terminals = [[35,3],[41,3],[43,3],[48,4],[53,5],[38,5],[40,5],[42,5],[44,5],[46,5],[39,6],[41,6],[43,6],[47,6],[38,7],[41,7],[44,8],[46,7],[48,7],[36,8],[39,8],[42,8],[47,8],[49,8],[30,8],[28,8],[31,9],[29,9],[33,8],[37,9],[40,9],[42,9],[44,9],[46,9],[48,9],[38,10],[41,10],[44,10],[47,10],[50,10],[27,11],[30,10],[32,11],[36,11],[39,11],[42,11],[45,11],[48,11],[51,11],[53,11],[55,10],[40,12],[43,12],[46,12],[49,12],[52,12],[55,12],[57,12],[26,12],[29,12],[33,12],[36,13],[41,13],[44,13],[47,13],[50,13],[53,13],[56,13],[26,14],[30,14],[33,14],[42,14],[44,14],[47,14],[52,14],[57,14],[43,15],[45,15],[47,15],[50,15],[30,15],[35,15],[44,16],[46,16],[33,16],[31,16],[28,17],[35,17],[30,17],[32,17],[28,18],[30,18],[33,18],[35,18],[37,18],[52,17],[55,16],[57,16],[27,19],[29,19],[31,19],[34,19],[36,20],[39,20],[45,18],[48,18],[33,20],[30,20],[37,21],[28,21],[31,21],[22,20],[24,20],[26,21],[29,22],[32,22],[46,21],[48,21],[27,23],[30,23],[33,23],[36,22],[39,23],[42,23],[28,24],[31,24],[25,24],[34,24],[37,25],[43,25],[22,24],[24,25],[27,25],[30,25],[32,25],[36,26],[40,26],[45,26],[26,26],[29,26],[31,26],[33,27],[22,27],[25,27],[29,28],[32,28],[38,27],[41,28],[24,29],[27,29],[32,29],[25,30],[28,31],[38,30],[40,30],[28,32],[33,33],[35,33],[38,34],[26,33],[40,33],[34,35],[37,36],[40,35],[39,37],[26,36],[37,38],[40,38],[33,38],[35,39],[38,40],[41,40],[36,41],[40,41],[37,42],[40,42],[37,43],[52,38],[51,40],[51,41],[51,42],[50,44],[58,23],[62,24],[74,24],[70,26],[65,28],[68,27],[72,27],[75,27],[78,28],[66,29],[70,29],[74,29],[65,30],[68,31],[72,30],[76,30],[65,32],[69,32],[73,32],[77,31],[64,33],[67,34],[71,34],[75,33],[78,34],[63,35],[66,36],[70,36],[74,36],[62,37],[65,37],[68,38],[72,38],[76,38],[64,39],[67,40],[70,40],[73,40],[66,41],[69,41],[68,42],[72,42],[85,28],[86,29],[88,30],[89,30],[87,36],[88,38],[90,36],[80,40],[82,41],[83,43],[81,44],[85,44],[80,45],[83,46],[70,43],[72,44],[69,44],[74,44],[70,46],[73,46],[75,46],[77,45],[69,47],[72,47],[76,47],[70,48],[79,46],[83,47],[71,49],[70,50],[72,50],[73,51],[72,52],[54,45],[58,46],[57,47],[58,48],[58,49],[60,50],[30,47],[40,47],[44,49],[46,49],[50,50],[37,52],[33,53],[33,54],[44,53],[60,51],[63,51],[58,52],[66,51],[69,52],[63,53],[67,53],[71,53],[74,52],[77,51],[56,54],[55,55],[58,54],[61,54],[70,54],[75,54],[42,56],[45,56],[66,56],[64,58],[70,58],[75,56],[29,58],[38,58],[42,59],[48,59],[50,58],[52,58],[53,60],[54,61],[38,60],[41,61],[55,62],[59,61],[62,61],[64,60],[70,60],[72,61],[42,62],[56,64],[67,62],[68,63],[55,65],[60,65],[67,64],[64,65],[72,65],[77,64],[78,66],[84,65],[85,66],[56,67],[53,66],[50,67],[54,67],[42,65],[57,68],[63,67],[70,67],[75,67],[78,67],[57,69],[65,69],[81,68],[83,68],[55,70],[61,70],[65,71],[73,70],[73,71],[55,72],[66,72],[49,72],[61,73],[63,73],[66,73],[49,74],[64,74],[52,75],[55,76],[57,76],[59,77],[65,76],[67,77],[71,76],[48,78],[50,78],[64,78],[49,79],[51,79],[45,83],[46,82],[47,83],[44,84]];
const cell3Terminals = [[43,9],[45,9],[47,10],[49,11],[53,12],[55,12],[57,13],[60,14],[62,14],[63,15],[64,16],[66,16],[67,17],[68,16],[71,11],[72,12],[66,18],[44,15],[42,16],[47,15],[49,15],[43,17],[46,17],[48,17],[50,17],[42,18],[45,18],[48,18],[51,18],[44,19],[47,19],[50,20],[53,20],[46,20],[48,20],[56,19],[45,21],[49,21],[58,20],[60,20],[62,20],[64,20],[66,20],[68,20],[70,19],[59,21],[62,21],[65,21],[72,20],[73,21],[58,22],[55,23],[69,22],[50,23],[52,24],[56,24],[58,24],[60,24],[79,16],[80,18],[82,19],[80,20],[86,20],[62,26],[71,24],[69,25],[65,25],[73,26],[79,26],[79,27],[54,25],[54,27],[55,26],[54,28],[31,22],[30,27],[31,27],[31,28],[32,29],[31,30],[32,31],[30,30],[31,32],[32,32],[33,31],[31,33],[33,33],[33,34],[53,31],[56,30],[52,32],[54,33],[56,32],[52,34],[53,36],[55,34],[51,35],[51,37],[54,38],[55,39],[54,40],[52,40],[55,41],[57,39],[24,33],[23,34],[24,35],[25,35],[26,36],[27,36],[28,37],[27,38],[25,37],[28,35],[30,38],[26,38],[19,40],[19,41],[25,39],[28,39],[30,39],[25,41],[27,42],[30,42],[33,40],[25,42],[32,43],[19,43],[20,44],[27,44],[30,45],[29,46],[28,47],[30,48],[58,43],[58,44],[59,47],[59,49],[27,48],[29,48],[26,49],[28,49],[31,49],[26,50],[28,50],[32,50],[27,51],[29,51],[33,51],[36,52],[37,51],[26,52],[28,52],[31,52],[25,53],[27,53],[29,53],[25,54],[27,54],[30,54],[26,55],[28,55],[31,55],[28,56],[30,56],[29,57],[33,57],[29,58],[31,58],[34,58],[37,58],[39,58],[31,60],[30,61],[33,60],[33,61],[39,60],[31,62],[32,63],[30,63],[28,63],[26,64],[25,64],[29,64],[25,65],[27,65],[24,66],[26,67],[30,66],[28,67],[24,68],[53,59],[52,60],[60,58],[57,60],[61,60],[62,61],[50,61],[48,62],[46,62],[44,63],[46,64],[63,61],[62,64],[58,61],[40,62],[42,62],[38,63],[37,65],[40,64],[40,66],[42,66],[47,66],[44,67],[26,68],[26,70],[24,71],[25,72],[29,70],[43,68],[46,68],[48,69],[39,69],[40,70],[11,65],[15,64],[26,73],[25,74],[26,75],[27,74],[44,72],[47,72],[50,73],[44,74],[48,74],[52,74],[58,73],[64,69],[64,71],[25,76],[24,77],[30,77],[32,77],[41,76],[43,76],[45,77],[50,76],[53,76],[54,75],[63,74],[64,76],[48,78],[49,79],[51,79],[53,78],[47,80],[50,81],[53,80],[55,82],[54,83],[65,78],[67,77],[66,80],[24,80],[26,81],[28,80],[25,82],[29,82],[31,82],[33,84],[35,85],[37,84],[39,85],[41,85],[43,85],[62,83],[60,84],[60,85],[58,86],[53,85],[64,84],[66,83],[30,85],[32,87],[37,86],[38,87],[39,88],[42,87],[47,86],[49,87],[50,87],[51,87],[36,89],[39,90],[44,89],[46,90],[47,91],[49,91],[51,92],[48,92]];
const cell4Terminals = [[25,19],[45,19],[50,20],[56,20],[60,19],[65,20],[73,18],[42,23],[42,25],[50,25],[51,23],[54,22],[57,22],[60,23],[62,21],[65,22],[67,23],[68,25],[55,24],[59,24],[63,24],[66,25],[53,26],[57,26],[60,25],[63,26],[65,27],[56,28],[59,27],[62,28],[65,29],[55,30],[58,29],[61,30],[64,31],[57,31],[59,32],[66,31],[52,30],[72,23],[74,24],[77,25],[83,27],[86,31],[81,31],[87,34],[92,33],[28,26],[26,27],[26,28],[26,31],[27,31],[35,29],[34,30],[16,33],[22,33],[24,34],[28,34],[36,34],[20,36],[29,35],[23,37],[28,38],[29,39],[34,38],[35,39],[41,40],[28,40],[23,40],[20,41],[48,33],[55,33],[60,34],[67,32],[67,34],[70,35],[64,37],[57,37],[58,38],[62,38],[63,39],[61,40],[59,40],[63,37],[72,40],[78,40],[74,41],[79,43],[64,41],[64,42],[51,42],[20,43],[20,44],[36,43],[37,43],[45,43],[38,46],[44,48],[58,44],[58,45],[60,46],[62,46],[63,47],[62,48],[59,48],[54,48],[57,49],[70,47],[71,47],[74,46],[77,45],[62,50],[63,51],[65,51],[67,50],[68,50],[67,52],[65,53],[71,50],[74,50],[75,51],[64,55],[65,56],[70,54],[72,55],[74,55],[69,56],[67,57],[73,57],[76,58],[79,57],[60,59],[63,59],[66,59],[68,58],[67,60],[73,59],[80,59],[76,61],[62,61],[65,61],[68,62],[73,61],[72,62],[72,64],[27,62],[16,64],[71,65],[74,65],[65,66],[67,66],[72,66],[74,67],[76,66],[81,67],[78,68],[75,68],[73,69],[75,69],[70,71],[74,72],[79,71],[71,72],[73,73],[70,74],[71,75],[69,75],[71,76],[70,76],[28,69],[30,70],[59,69],[23,72],[30,73],[31,74],[56,73],[55,75],[64,75],[31,75],[33,76],[35,76],[28,76],[16,77],[19,78],[18,79],[31,79],[16,83],[44,82],[40,82],[38,83],[39,84],[32,84],[33,84],[41,86],[43,87],[55,85],[26,85],[34,86],[35,87],[25,87],[52,87],[33,89]];
const cell5Terminals = [[31,5],[32,5],[31,6],[29,7],[26,8],[22,11],[20,11],[29,11],[28,13],[26,14],[29,14],[34,14],[21,14],[22,14],[15,17],[16,17],[17,17],[19,17],[20,17],[22,17],[24,17],[25,17],[20,18],[23,18],[27,16],[25,15],[28,15],[30,16],[39,11],[41,12],[44,13],[45,11],[47,11],[49,10],[52,10],[54,9],[47,12],[49,12],[51,11],[55,12],[50,13],[52,14],[42,16],[22,18],[24,19],[26,19],[31,18],[31,19],[27,20],[22,20],[17,21],[20,21],[23,21],[25,22],[27,22],[30,21],[20,22],[22,23],[24,23],[26,23],[13,24],[18,24],[21,25],[24,25],[32,24],[33,26],[30,25],[27,26],[52,25],[17,26],[15,27],[19,27],[22,27],[24,28],[16,28],[28,30],[23,30],[21,30],[19,31],[18,32],[22,32],[25,32],[27,34],[30,33],[17,34],[26,33],[17,35],[42,34],[33,36],[20,37],[20,38],[17,39],[24,37],[27,38],[27,40],[43,38],[38,40],[20,41],[27,42],[28,43],[18,43],[52,43],[80,43],[68,44],[72,46],[68,47],[55,47],[68,49],[79,27],[80,31],[21,51],[20,52],[20,53],[32,52],[63,51],[65,51],[66,53],[72,53],[76,54],[69,54],[65,55],[18,57],[35,57],[24,58],[69,56],[74,57],[24,60],[26,60],[30,61],[50,59],[50,61],[21,61],[22,63],[30,62],[30,63],[68,61],[73,62],[17,65],[40,66],[46,66],[43,67],[32,67],[27,67],[37,68],[34,69],[22,69],[21,71],[47,70],[38,79],[33,81],[36,84],[51,84],[12,86],[46,87]];
const cell6Terminals = [[41,3],[41,4],[50,4],[47,6],[53,6],[47,8],[52,8],[56,8],[56,9],[67,8],[67,9],[59,9],[60,11],[63,11],[67,10],[68,11],[70,11],[72,11],[74,12],[76,13],[31,10],[37,10],[51,12],[56,12],[61,12],[63,12],[68,12],[70,13],[72,13],[68,13],[61,14],[66,14],[71,14],[71,15],[76,15],[80,15],[37,13],[32,15],[48,14],[45,15],[42,15],[50,15],[53,15],[61,15],[42,16],[45,16],[47,17],[56,16],[71,16],[75,16],[43,18],[45,18],[47,19],[52,19],[55,19],[57,19],[62,18],[66,18],[68,18],[72,18],[75,18],[83,19],[46,20],[48,20],[57,20],[62,20],[72,19],[84,20],[42,21],[47,21],[49,21],[55,21],[67,21],[71,21],[75,21],[84,22],[50,23],[53,23],[57,22],[59,23],[62,23],[66,24],[72,22],[76,22],[79,23],[44,24],[49,25],[54,25],[58,24],[72,24],[73,26],[84,25],[88,25],[81,26],[78,28],[15,26],[5,29],[6,30],[58,28],[60,29],[64,30],[49,29],[46,29],[36,30],[31,31],[52,31],[54,31],[59,32],[52,32],[23,33],[53,34],[60,35],[53,35],[5,36],[9,36],[28,35],[35,36],[31,37],[63,37],[58,37],[53,37],[49,37],[7,38],[8,39],[12,38],[13,39],[27,39],[29,38],[54,39],[57,39],[76,38],[47,40],[5,40],[4,41],[6,41],[7,41],[12,42],[27,40],[29,41],[54,41],[60,41],[66,41],[66,43],[63,42],[54,42],[36,43],[13,44],[51,44],[54,44],[57,44],[6,45],[10,46],[14,46],[5,48],[5,49],[10,48],[10,49],[14,51],[13,52],[39,49],[41,50],[45,49],[50,50],[59,49],[61,50],[62,50],[43,51],[46,51],[68,52],[34,52],[50,53],[42,54],[59,54],[7,55],[28,55],[10,56],[11,56],[14,56],[62,55],[9,57],[14,58],[14,59],[10,59],[66,58],[58,58],[75,58],[82,59],[43,60],[68,60],[76,60],[63,60],[10,61],[61,61],[78,61],[24,62],[33,62],[47,62],[13,62],[67,64],[66,64],[78,65],[7,65],[12,65],[13,66],[23,65],[67,66],[71,66],[81,66],[14,67],[79,68],[15,69],[13,70],[78,69],[51,69],[52,70],[5,72],[10,72],[58,72],[47,73],[11,73],[62,74],[71,74],[11,74],[24,75],[56,75],[66,75],[74,75],[10,76],[12,76],[15,76],[12,77],[19,77],[73,76],[59,77],[60,77],[64,77],[69,77],[59,78],[36,78],[59,79],[18,81],[18,82],[58,82],[44,82],[19,84],[38,83],[31,83],[30,84],[32,85],[57,83],[60,83],[30,86],[44,86]];
const allCellTerminals = [cell1Terminals,cell2Terminals,cell3Terminals,cell4Terminals,cell5Terminals,cell6Terminals];

const SVGNS = "http://www.w3.org/2000/svg";

/* ---------- donut ---------- */
const donutCenterX = 1712, donutCenterY = 438, donutOuter = 285, donutInner = 142;
const totalShare = regionShares.reduce((a,b)=>a+b,0);
function shareToAngle(cumulative){ return cumulative/totalShare*2*Math.PI; }
function polar(r,a){ return [donutCenterX+r*Math.sin(a), donutCenterY-r*Math.cos(a)]; }
const donutGroup = document.getElementById("donut");
let cumulativeShare = 0;
regionShares.forEach(function(share,i){
  const a0 = shareToAngle(cumulativeShare);
  cumulativeShare += share;
  const a1 = shareToAngle(cumulativeShare);
  const large = (a1-a0)>Math.PI?1:0;
  const p0 = polar(donutOuter,a0), p1 = polar(donutOuter,a1), p2 = polar(donutInner,a1), p3 = polar(donutInner,a0);
  const slice = document.createElementNS(SVGNS,"path");
  slice.setAttribute("d","M"+p0+" A"+donutOuter+","+donutOuter+" 0 "+large+" 1 "+p1+" L"+p2+" A"+donutInner+","+donutInner+" 0 "+large+" 0 "+p3+"Z");
  slice.setAttribute("fill",regionColors[i]);
  
  
  donutGroup.appendChild(slice);
});
[donutOuter,donutInner].forEach(function(r,i){
  const ring = document.createElementNS(SVGNS,"circle");
  ring.setAttribute("cx",donutCenterX);
  ring.setAttribute("cy",donutCenterY);
  ring.setAttribute("r",r);
  ring.setAttribute("fill",i?"#fff":"none");
  ring.setAttribute("stroke","#111");
  ring.setAttribute("stroke-width","5");
  
  
  donutGroup.appendChild(ring);
});

/* ---------- donut legend ---------- */
const legendRows = [179,255,331,406,482,557,632];
const legendGroup = document.getElementById("donut-legend");
legendOrder.forEach(function(name,i){
  const col = i<7?0:1, row = i<7?i:i-7;
  const swatch = document.createElementNS(SVGNS,"rect");
  swatch.setAttribute("x",col?2456:2102);
  swatch.setAttribute("y",legendRows[row]);
  swatch.setAttribute("width",83);
  swatch.setAttribute("height",37);
  swatch.setAttribute("class","sw");
  swatch.setAttribute("fill",regionColors[regionNames.indexOf(name)]);
  
  
  legendGroup.appendChild(swatch);
  const label = document.createElementNS(SVGNS,"text");
  label.setAttribute("x",col?2561:2208);
  label.setAttribute("y",legendRows[row]+34);
  label.textContent = name;
  
  
  legendGroup.appendChild(label);
});

/* ---------- terminals ---------- */
const panelLefts = [55,418,780,1144,1504,1866];
const panelWidths = [354,353,351,347,349,350];
const panelTop = 1652, panelHeight = 674;
function xAxis(cell,v){ return panelLefts[cell]+v/100*panelWidths[cell]; }
function yAxis(v){ return panelTop+v/100*panelHeight; }
const terminalGroup = document.getElementById("terminals");
allCellTerminals.forEach(function(points,cell){
  points.forEach(function(pt){
    const dot = document.createElementNS(SVGNS,"circle");
    dot.setAttribute("cx",xAxis(cell,pt[0]).toFixed(1));
    dot.setAttribute("cy",yAxis(pt[1]).toFixed(1));
    dot.setAttribute("r","3.8");
    dot.setAttribute("fill","#00ceff");
    
    
    terminalGroup.appendChild(dot);
  });
});

/* ---------- illustrative neurite arcs, front view ---------- */
const quadrantPalettes = [
  ["#20c040","#1e9fd0","#d01c24","#e8a030"],
  ["#1e9fd0","#e8a030","#ff60e0","#1e9fd0","#20c040"],
  ["#ff60e0","#1e9fd0","#e8a030","#ff60e0","#d01c24"],
  ["#d01c24","#e8a030","#d01c24","#ff60e0","#20c040"]
];
const quadrantSigns = [[-1,-1],[1,-1],[1,1],[-1,1]];
const ringGroup = document.getElementById("front-rings");
for(let i=0;i<36;i++){
  const t = i/35;
  const rx = 9+75*t, ry = 104+62*t, cx = 448-4*t, cy = 1160;
  quadrantSigns.forEach(function(s,q){
    const arc = document.createElementNS(SVGNS,"path");
    const sweep = (s[0]*s[1]<0)?1:0;
    arc.setAttribute("d","M"+cx+","+(cy+s[1]*ry)+" A"+rx+","+ry+" 0 0 "+sweep+" "+(cx+s[0]*rx)+","+cy);
    arc.setAttribute("transform","rotate(-7 448 1160)");
    arc.setAttribute("fill","none");
    arc.setAttribute("stroke",quadrantPalettes[q][(i+q)%quadrantPalettes[q].length]);
    arc.setAttribute("stroke-width","1.3");
    arc.setAttribute("stroke-dasharray",(24+i*2)+" "+(8+(i+q)%4*6));
    
    
    ringGroup.appendChild(arc);
  });
}
</script>
</body>
</html>
